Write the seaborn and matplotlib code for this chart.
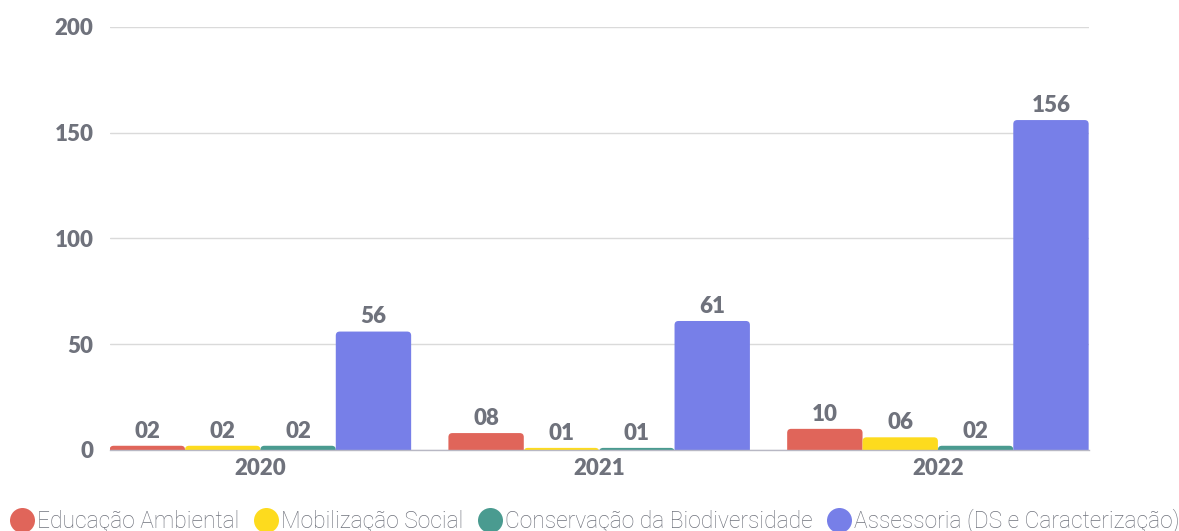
import matplotlib
matplotlib.use("Agg")
import matplotlib.pyplot as plt
from matplotlib.lines import Line2D
from matplotlib.patches import FancyBboxPatch
from matplotlib.font_manager import FontProperties
import seaborn as sns
import pandas as pd

anos = ["2020", "2021", "2022"]
categorias = ["Educação Ambiental", "Mobilização Social",
              "Conservação da Biodiversidade", "Assessoria (DS e Caracterização)"]
educacao = [2, 8, 10]
mobilizacao = [2, 1, 6]
conservacao = [2, 1, 2]
assessoria = [56, 61, 156]
cores = ["#E0655A", "#FDDB1E", "#4A9B90", "#777FE8"]
yticks = [0, 50, 100, 150, 200]

series = [educacao, mobilizacao, conservacao, assessoria]
rows = []
for cat, vals in zip(categorias, series):
    for ano, v in zip(anos, vals):
        rows.append({"ano": ano, "categoria": cat, "valor": v})
df = pd.DataFrame(rows)

sns.set_theme(style="white")
plt.rcParams["font.family"] = ["Lato", "DejaVu Sans"]
txt = "#6F727C"
numfont = {"family": "Lato", "weight": "heavy", "size": 16}

W, H = 1179, 531
ax_l, ax_r, ax_b, ax_t = 110, 1089, 450, 27
fig = plt.figure(figsize=(W/100, H/100), dpi=100)
ax = fig.add_axes([ax_l/W, (H-ax_b)/H, (ax_r-ax_l)/W, (ax_b-ax_t)/H])

sns.barplot(data=df, x="ano", y="valor", hue="categoria", hue_order=categorias,
            order=anos, palette=cores, width=0.89, saturation=1, gap=0,
            errorbar=None, ax=ax, legend=False, edgecolor="none")

xlim = (-0.444, 2.446)
ylim = (0, 200)
ax.set_ylim(*ylim)
ax.set_xlim(*xlim)

# rounded top corners: replace rectangles with rounded boxes (bottom hidden below axis)
xpp = (xlim[1]-xlim[0]) / (ax_r-ax_l)
ypp = (ylim[1]-ylim[0]) / (ax_b-ax_t)
rad_px = 4
for cont in ax.containers:
    for rect in cont.patches:
        x, w, h = rect.get_x(), rect.get_width(), rect.get_height()
        fc = rect.get_facecolor()
        rect.set_visible(False)
        ext = 8 * ypp
        fb = FancyBboxPatch((x, -ext), w, h + ext,
                            boxstyle=f"round,pad=0,rounding_size={rad_px*xpp}",
                            mutation_aspect=ypp/xpp, facecolor=fc, edgecolor="none",
                            transform=ax.transData, zorder=2)
        ax.add_patch(fb)

ax.set_yticks(yticks)
ax.set_yticklabels([str(t) for t in yticks], color=txt, **numfont)
ax.tick_params(axis="y", length=0, pad=12)
ax.tick_params(axis="x", length=0, pad=6)
for lab in ax.get_xticklabels():
    lab.set_fontproperties(FontProperties(**numfont))
    lab.set_color(txt)
ax.set_xlabel("")
ax.set_ylabel("")
ax.yaxis.grid(True, color="#DADADA", linewidth=1)
ax.set_axisbelow(True)
for s in ["top", "right", "left"]:
    ax.spines[s].set_visible(False)
ax.spines["bottom"].set_color("#B8B8C4")
ax.spines["bottom"].set_linewidth(1)
ax.spines["bottom"].set_zorder(3)

for cont, vals in zip(ax.containers, series):
    ax.bar_label(cont, labels=[f"{v:02d}" for v in vals], padding=3,
                 color=txt, **numfont)

handles = [Line2D([0], [0], marker="o", color="none", markerfacecolor=c,
                  markeredgecolor="none", markersize=18) for c in cores]
leg = fig.legend(handles, categorias, loc="center", bbox_to_anchor=(0.5 + 5/W, 10/H),
                 ncol=4, frameon=False, handletextpad=0.1, columnspacing=0.62,
                 handlelength=1.1, prop={"family": "Roboto", "weight": "light", "size": 16.4})
for t in leg.get_texts():
    t.set_color(txt)

fig.savefig("out.png", dpi=100, facecolor="white")
